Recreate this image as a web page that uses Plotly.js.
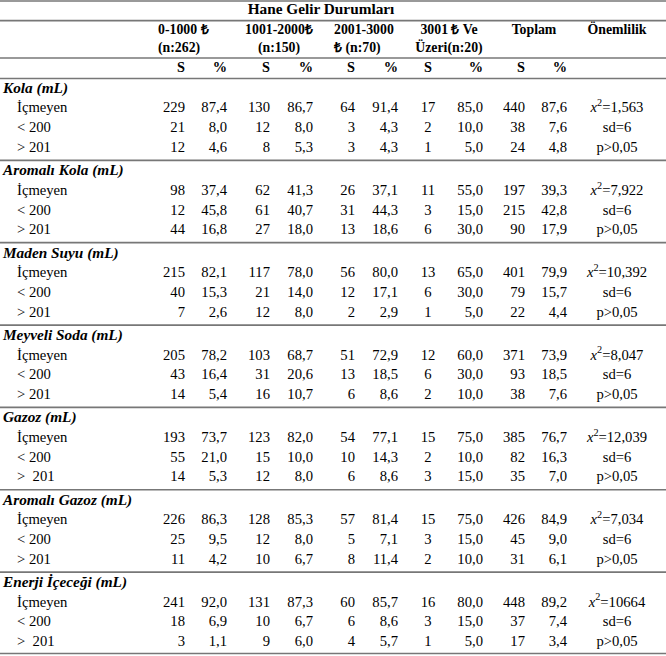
<!DOCTYPE html>
<html>
<head>
<meta charset="utf-8">
<script src="https://cdn.plot.ly/plotly-3.0.1.min.js"></script>
<style>html,body{margin:0;padding:0;background:#fff;}</style>
</head>
<body>
<div id="chart" style="width:666px;height:656px"></div>
<script>
// ---------------- DATA ----------------
const tableTitle = "Hane Gelir Durumları";
const incomeGroups = ["0-1000 ₺<br>(n:262)", "1001-2000₺<br>(n:150)", "2001-3000<br>₺ (n:70)", "3001 ₺ Ve<br>Üzeri(n:20)", "Toplam", "Önemlilik"];
const subHeaders = ["S", "%", "S", "%", "S", "%", "S", "%", "S", "%"];
const drinks = ["Kola (mL)", "Aromalı Kola (mL)", "Maden Suyu (mL)", "Meyveli Soda (mL)", "Gazoz (mL)", "Aromalı Gazoz (mL)", "Enerji İçeceği (mL)"];
const rowLabels = [
  "İçmeyen", "< 200", "> 201",
  "İçmeyen", "< 200", "> 201",
  "İçmeyen", "< 200", "> 201",
  "İçmeyen", "< 200", "> 201",
  "İçmeyen", "< 200", ">\u00a0 201",
  "İçmeyen", "< 200", "> 201",
  "İçmeyen", "< 200", ">\u00a0 201"
];
const s1 = [229,21,12, 98,12,44, 215,40,7, 205,43,14, 193,55,14, 226,25,11, 241,18,3];
const p1 = [87.4,8.0,4.6, 37.4,45.8,16.8, 82.1,15.3,2.6, 78.2,16.4,5.4, 73.7,21.0,5.3, 86.3,9.5,4.2, 92.0,6.9,1.1];
const s2 = [130,12,8, 62,61,27, 117,21,12, 103,31,16, 123,15,12, 128,12,10, 131,10,9];
const p2 = [86.7,8.0,5.3, 41.3,40.7,18.0, 78.0,14.0,8.0, 68.7,20.6,10.7, 82.0,10.0,8.0, 85.3,8.0,6.7, 87.3,6.7,6.0];
const s3 = [64,3,3, 26,31,13, 56,12,2, 51,13,6, 54,10,6, 57,5,8, 60,6,4];
const p3 = [91.4,4.3,4.3, 37.1,44.3,18.6, 80.0,17.1,2.9, 72.9,18.5,8.6, 77.1,14.3,8.6, 81.4,7.1,11.4, 85.7,8.6,5.7];
const s4 = [17,2,1, 11,3,6, 13,6,1, 12,6,2, 15,2,3, 15,3,2, 16,3,1];
const p4 = [85.0,10.0,5.0, 55.0,15.0,30.0, 65.0,30.0,5.0, 60.0,30.0,10.0, 75.0,10.0,15.0, 75.0,15.0,10.0, 80.0,15.0,5.0];
const s5 = [440,38,24, 197,215,90, 401,79,22, 371,93,38, 385,82,35, 426,45,31, 448,37,17];
const p5 = [87.6,7.6,4.8, 39.3,42.8,17.9, 79.9,15.7,4.4, 73.9,18.5,7.6, 76.7,16.3,7.0, 84.9,9.0,6.1, 89.2,7.4,3.4];
const chiSquare = ["1,563", "7,922", "10,392", "8,047", "12,039", "7,034", "10664"];
const sdValue = "sd=6";
const pValue = "p>0,05";

// ---------------- LAYOUT CONSTANTS ----------------
const FONT = "Liberation Serif, serif";
const W = 666, H = 656;
const groupY0 = 89, groupPitch = 82.35, rowPitch = 19.8;
const colX = [185, 227, 270, 313, 355, 398, 428, 483, 525, 567];
const colPos = ["middle left","middle left","middle left","middle left","middle left","middle left","middle center","middle left","middle left","middle left"];
const sigX = 617;
function pct(v){ return v.toFixed(1).replace(".", ","); }

const groupYs = drinks.map((d, g) => groupY0 + g * groupPitch);
const rowYs = rowLabels.map((r, i) => groupYs[Math.floor(i / 3)] + rowPitch * (i % 3 + 1));

const traces = [];
function textTrace(xs, ys, texts, pos, size) {
  traces.push({
    type: "scatter", mode: "text", x: xs, y: ys, text: texts,
    textposition: pos, hoverinfo: "skip",
    textfont: {family: FONT, size: size, color: "#000000"}
  });
}

// title
textTrace([321], [10.5], ["<b>" + tableTitle + "</b>"], "middle center", 15.3);
// income headers
const hdrX = [158, 279, 334, 449, 534, 617];
const hdrPos = ["middle right", "middle center", "middle right", "middle center", "middle center", "middle center"];
incomeGroups.forEach((h, i) => {
  const twoLine = h.indexOf("<br>") >= 0;
  textTrace([hdrX[i]], [twoLine ? 40 : 31], ["<b>" + h + "</b>"], hdrPos[i], 13.8);
});
// sub headers
subHeaders.forEach((h, i) => textTrace([colX[i]], [68.5], ["<b>" + h + "</b>"], colPos[i], 14.3));

// group titles
textTrace(drinks.map(() => 3), groupYs, drinks.map(d => "<b><i>" + d + "</i></b>"), "middle right", 15.3);
// row labels
textTrace(rowLabels.map(() => 17), rowYs, rowLabels, "middle right", 14.67);
// numeric columns
const cols = [s1, p1, s2, p2, s3, p3, s4, p4, s5, p5];
cols.forEach((arr, c) => {
  const isPct = c % 2 === 1;
  textTrace(arr.map(() => colX[c]), rowYs, arr.map(v => isPct ? pct(v) : String(v)), colPos[c], 14.67);
});
// significance column
const sigTexts = rowLabels.map((r, i) => {
  const g = Math.floor(i / 3), k = i % 3;
  return k === 0 ? "<i>x</i><sup>2</sup>=" + chiSquare[g] : (k === 1 ? sdValue : pValue);
});
textTrace(rowLabels.map(() => sigX), rowYs, sigTexts, "middle center", 14.67);

// horizontal rules
const ruleYs = [1, 20.7, 58, 78.5].concat(groupYs.slice(1).map(y => y - 11)).concat([rowYs[rowYs.length - 1] + 11]);
const shapes = ruleYs.map(y => ({
  type: "line", xref: "x", yref: "y", x0: 0, x1: W, y0: y, y1: y,
  line: {color: "#777777", width: 1.7}
}));

const layout = {
  width: W, height: H,
  margin: {l: 0, r: 0, t: 0, b: 0, pad: 0},
  paper_bgcolor: "#fff", plot_bgcolor: "#fff",
  font: {family: FONT},
  showlegend: false, hovermode: false,
  xaxis: {range: [0, W], visible: false, fixedrange: true},
  yaxis: {range: [H, 0], visible: false, fixedrange: true},
  shapes: shapes
};

Plotly.newPlot("chart", traces, layout, {displayModeBar: false});
</script>
</body>
</html>
